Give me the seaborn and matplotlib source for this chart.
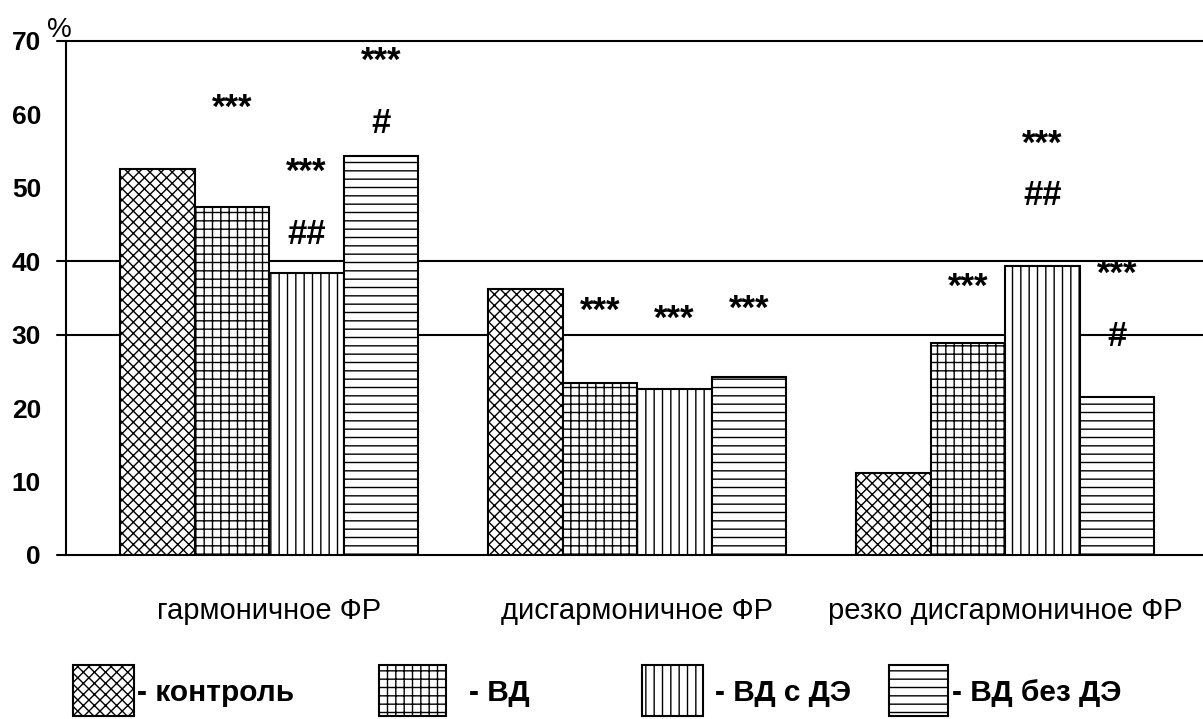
import matplotlib
matplotlib.use("Agg")
import matplotlib.pyplot as plt
from matplotlib.patches import Rectangle
import pandas as pd
import seaborn as sns

categories = ["гармоничное ФР", "дисгармоничное ФР", "резко дисгармоничное ФР"]
groups = ["контроль", "ВД", "ВД с ДЭ", "ВД без ДЭ"]
control = [52.6, 36.2, 11.1]
vd = [47.4, 23.4, 28.9]
vd_de = [38.4, 22.6, 39.3]
vd_no_de = [54.3, 24.3, 21.5]

# significance marks over bars: category index, group index, text, height
mark_cat = [0, 0, 0, 0, 0, 1, 1, 1, 2, 2, 2, 2, 2]
mark_grp = [1, 2, 2, 3, 3, 1, 2, 3, 1, 2, 2, 3, 3]
mark_txt = ["***", "***", "##", "***", "#", "***", "***", "***",
            "***", "***", "##", "***", "#"]
mark_y = [62.1, 53.4, 44.0, 68.5, 59.2, 34.5, 33.4, 34.7,
          37.7, 57.2, 49.3, 39.5, 30.2]

hatches = ["xxx", "++", "||", "--"]

sns.set_style("white")
plt.rcParams["font.family"] = ["Liberation Sans", "DejaVu Sans"]
plt.rcParams["text.color"] = "black"
plt.rcParams["xtick.color"] = "black"
plt.rcParams["ytick.color"] = "black"
plt.rcParams["hatch.linewidth"] = 1.0
plt.rcParams["hatch.color"] = "black"

rows = []
for name, vals in zip(groups, [control, vd, vd_de, vd_no_de]):
    for cat, v in zip(categories, vals):
        rows.append({"category": cat, "group": name, "value": v})
df = pd.DataFrame(rows)

fig = plt.figure(figsize=(12.03, 7.19), dpi=100)
ax = fig.add_axes([66 / 1203, 164 / 719, 1137 / 1203, 514 / 719])

sns.barplot(data=df, x="category", y="value", hue="group", order=categories,
            hue_order=groups, palette=["white"] * 4, width=0.81,
            edgecolor="black", linewidth=1.5, legend=False, zorder=2, ax=ax)

for cont, h in zip(ax.containers, hatches):
    for bar in cont:
        bar.set_hatch(h)
        bar.set_edgecolor("black")

ax.set_ylim(0, 70)
ax.set_xlim(-0.552, 2.538)
ax.set_yticks(range(0, 71, 10))
ax.tick_params(axis="y", length=0, pad=18, labelsize=19, labelcolor="black")
ax.tick_params(axis="x", length=0, pad=30, labelsize=21, labelcolor="black")
for lab in ax.get_yticklabels():
    lab.set_fontweight("bold")
ax.set_xlabel("")
ax.set_ylabel("")

for s in ["top", "right", "bottom"]:
    ax.spines[s].set_visible(False)
ax.spines["left"].set_linewidth(1.5)
ax.spines["left"].set_color("black")

for yv in [0, 30, 40, 70]:
    ax.axhline(yv, xmin=-0.008, xmax=1, color="black", lw=1.5,
               clip_on=False, zorder=1)

# glyph centre above baseline, as a share of font size
fs = 25
for c, g, t, y in zip(mark_cat, mark_grp, mark_txt, mark_y):
    bar = ax.containers[g][c]
    xc = bar.get_x() + bar.get_width() / 2
    shift = 0.55 if t.startswith("*") else 0.36
    ax.annotate(t, (xc, y), xytext=(0, -shift * fs), textcoords="offset points",
                ha="center", va="baseline", fontsize=fs, fontweight="bold",
                color="black", zorder=3)

fig.text(59 / 1203, 1 - 30 / 719, "%", fontsize=20, ha="center", va="center")

# legend drawn under the plot
leg_x = [73, 379, 642, 889]
leg_w = [61, 67, 61, 59]
leg_tx = [137, 469, 715, 952]
for lx, lw, tx, h, name in zip(leg_x, leg_w, leg_tx, hatches, groups):
    fig.patches.append(Rectangle((lx / 1203, 3 / 719), lw / 1203, 51 / 719,
                                 transform=fig.transFigure, facecolor="white",
                                 edgecolor="black", lw=1.5, hatch=h))
    fig.text(tx / 1203, 1 - 693 / 719, "- " + name, fontsize=21.5,
             fontweight="bold", ha="left", va="center")

fig.savefig("out.png", dpi=100)
